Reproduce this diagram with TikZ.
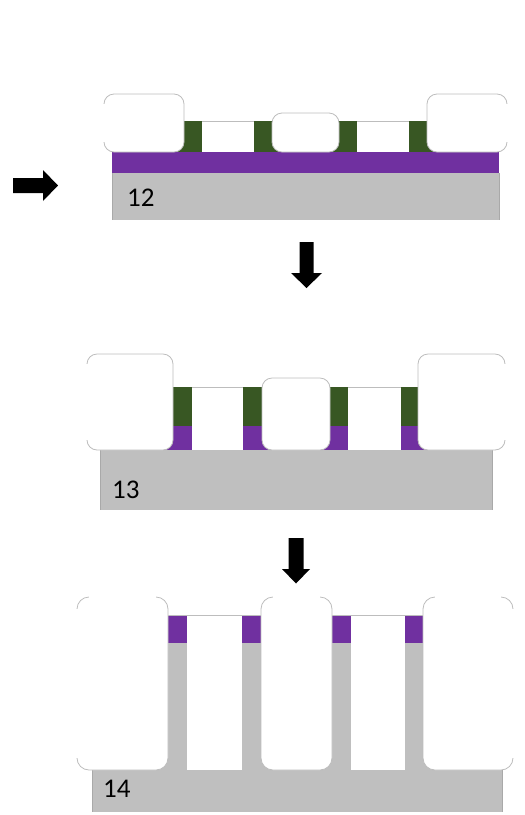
\documentclass[tikz,border=0pt]{standalone}
\usepackage{fontspec}
\setmainfont{Carlito}
\definecolor{subgray}{HTML}{BFBFBF}
\definecolor{subedge}{HTML}{A9A9A9}
\definecolor{oxide}{HTML}{7030A0}
\definecolor{spacergreen}{HTML}{385723}
\definecolor{boxedge}{HTML}{BDBDBD}
% rounded mandrel block: x1,y1,x2,y2,radius
\newcommand{\mandrel}[5]{%
  \filldraw[fill=white, draw=boxedge, line width=0.8pt, rounded corners=#5pt]
    (#1,#2) rectangle (#3,#4);}
% hide a straight side of a block (faded outline)
\newcommand{\fadeside}[4]{%
  \draw[white, line width=1.6pt] (#1,#2) -- (#3,#4);}
\begin{document}
\begin{tikzpicture}[x=1pt,y=-1pt,
  lbl/.style={anchor=base west, inner sep=0pt, font=\fontsize{27}{27}\selectfont},
  blockarrow/.style={fill=black},
  gapline/.style={draw=boxedge, line width=0.8pt}]
\useasboundingbox (0,0) rectangle (525,815);

% ---------- step 12 ----------
\fill[blockarrow] (13,178) -- (43,178) -- (43,170) -- (58,185.5) -- (43,201)
  -- (43,193) -- (13,193) -- cycle;
\fill[subgray] (112,173) rectangle (499,220);
\draw[subedge, line width=0.8pt] (112,173) -- (112,220) (499,173) -- (499,220);
\fill[oxide] (112,152) rectangle (499,173);
\fill[spacergreen] (170,121) rectangle (441,152);
\fill[white] (202,121) rectangle (254,152);
\draw[gapline] (202,121) -- (254,121);
\fill[white] (357,121) rectangle (409,152);
\draw[gapline] (357,121) -- (409,121);
\mandrel{104}{94}{184}{152}{10}
\mandrel{272}{113}{339}{152}{10}
\mandrel{427}{94}{507}{152}{10}
\fadeside{104}{104}{104}{142}
\fadeside{507}{104}{507}{142}
\node[lbl] (s12) at (127,206) {12};

% arrow 12 -> 13
\fill[blockarrow] (299.5,242) -- (313.5,242) -- (313.5,273) -- (322,273)
  -- (306.5,288) -- (291,273) -- (299.5,273) -- cycle;

% ---------- step 13 ----------
\fill[subgray] (100,450) rectangle (492,510);
\draw[subedge, line width=0.8pt] (100,450) -- (100,510) (492,450) -- (492,510);
\fill[spacergreen] (160,387) rectangle (431,426);
\fill[oxide] (160,426) rectangle (431,450);
\fill[white] (192,387) rectangle (243,450);
\draw[gapline] (192,387) -- (243,387);
\fill[white] (348,387) rectangle (401,450);
\draw[gapline] (348,387) -- (401,387);
\mandrel{87}{354}{173}{450}{10}
\mandrel{262}{378}{330}{450}{10}
\mandrel{418}{354}{505}{450}{10}
\fadeside{87}{364}{87}{440}
\fadeside{505}{364}{505}{440}
\node[lbl] (s13) at (112,498) {13};

% arrow 13 -> 14
\fill[blockarrow] (288.5,538) -- (303.5,538) -- (303.5,569) -- (310,569)
  -- (296,583.5) -- (282,569) -- (288.5,569) -- cycle;

% ---------- step 14 ----------
\fill[subgray] (92,770) rectangle (502,812);
\draw[subedge, line width=0.8pt] (92,770) -- (92,812) (502,770) -- (502,812);
\fill[oxide] (153,615) rectangle (438,643);
\fill[subgray] (153,643) rectangle (438,770);
\fill[white] (187,615) rectangle (242,770);
\fill[white] (351,615) rectangle (405,770);
\draw[gapline] (168,615) -- (261,615);
\draw[gapline] (332,615) -- (423,615);
\mandrel{77}{597}{168}{770}{12}
\mandrel{261}{597}{332}{770}{12}
\mandrel{423}{597}{513}{770}{12}
\fadeside{89}{597}{156}{597}
\fadeside{273}{597}{320}{597}
\fadeside{435}{597}{501}{597}
\fadeside{77}{609}{77}{758}
\fadeside{513}{609}{513}{758}
\node[lbl] (s14) at (103,797) {14};
\end{tikzpicture}
\end{document}
